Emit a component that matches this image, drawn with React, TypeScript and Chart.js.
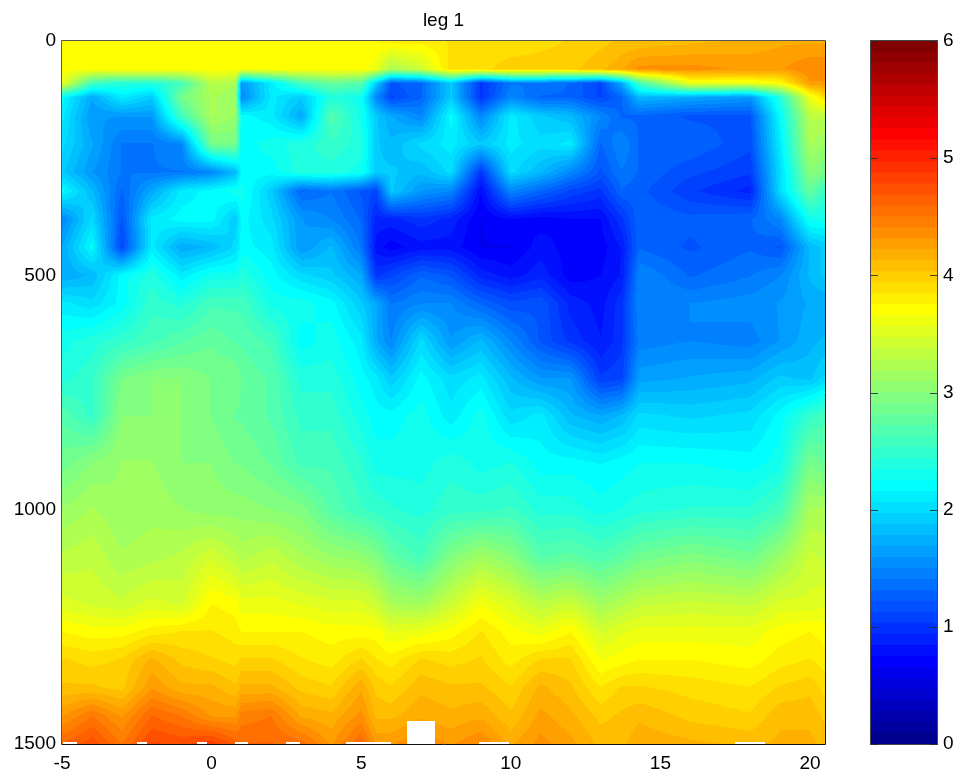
import React, { useEffect, useRef } from "react";
import { Chart, registerables } from "chart.js";

Chart.register(...registerables);

const titleText = "leg 1";
const xTicksStep = 5;
const depthTicksStep = 500;
const colorbarTicksStep = 1;

// sampled longitude-like positions (columns) and depths (rows)
const columns = [-5, -4, -3, -2, -1, 0, 0.8, 1, 2, 3, 4, 5, 5.5, 6, 7, 8, 9, 10, 11, 12, 13, 13.7, 14.3, 16, 18, 19, 20, 20.5];
const depths = [0, 60, 90, 120, 160, 220, 280, 320, 380, 440, 500, 560, 640, 720, 800, 900, 1000, 1100, 1200, 1260, 1320, 1380, 1440, 1500];

// values: one row per depth, one entry per column
const values = [
  [3.75, 3.75, 3.75, 3.75, 3.75, 3.75, 3.75, 3.75, 3.75, 3.75, 3.75, 3.75, 3.75, 3.8, 3.8, 3.85, 3.85, 3.85, 3.9, 3.95, 4.0, 4.05, 4.05, 4.1, 4.15, 4.2, 4.2, 4.2],
  [3.7, 3.7, 3.7, 3.7, 3.7, 3.7, 3.7, 3.7, 3.7, 3.7, 3.7, 3.7, 3.6, 3.2, 3.4, 3.9, 3.9, 4.0, 4.0, 4.0, 4.1, 4.2, 4.35, 4.35, 4.3, 4.3, 4.4, 4.4],
  [3.6, 2.6, 2.4, 2.4, 2.6, 3.3, 3.2, 1.6, 2.1, 2.6, 2.8, 2.7, 1.9, 1.2, 1.3, 1.9, 1.0, 1.4, 1.4, 1.3, 1.1, 1.7, 2.6, 3.6, 3.6, 3.7, 4.3, 4.3],
  [2.2, 1.7, 2.1, 1.9, 2.9, 3.2, 3.1, 1.5, 2.1, 1.9, 2.4, 2.3, 1.5, 1.1, 1.3, 1.9, 1.0, 1.5, 1.3, 1.3, 1.1, 1.3, 1.8, 1.7, 1.6, 2.4, 3.6, 3.9],
  [2.1, 1.6, 1.6, 1.6, 2.6, 3.2, 3.1, 2.2, 2.1, 1.7, 2.7, 2.3, 1.9, 1.7, 1.5, 2.2, 1.5, 2.1, 1.9, 1.8, 1.5, 1.3, 1.3, 1.2, 1.2, 2.2, 3.3, 3.3],
  [2.0, 1.7, 1.4, 1.4, 1.5, 2.9, 2.9, 2.2, 2.3, 2.4, 2.5, 2.4, 1.9, 1.8, 2.0, 2.1, 1.9, 2.1, 2.0, 2.1, 1.3, 1.5, 1.3, 1.3, 1.15, 2.1, 3.2, 3.1],
  [1.9, 1.6, 1.4, 1.4, 1.4, 1.5, 1.8, 2.2, 2.2, 2.4, 2.4, 2.3, 1.9, 1.9, 1.8, 2.0, 1.0, 2.0, 1.8, 1.5, 1.2, 1.4, 1.3, 1.15, 1.05, 2.0, 3.0, 2.9],
  [2.2, 1.8, 1.3, 1.7, 2.1, 2.2, 2.3, 2.3, 1.9, 1.3, 1.4, 1.2, 1.1, 1.9, 1.6, 1.5, 0.75, 1.5, 1.3, 1.1, 1.0, 1.3, 1.25, 1.05, 0.9, 2.0, 2.8, 2.5],
  [1.5, 2.0, 1.2, 2.1, 2.2, 2.2, 1.9, 2.2, 2.0, 1.6, 1.5, 1.3, 0.9, 0.9, 1.0, 0.9, 0.65, 0.75, 0.7, 0.75, 0.75, 1.0, 1.3, 1.25, 1.3, 1.5, 2.3, 2.3],
  [1.7, 2.2, 1.1, 2.1, 1.7, 1.8, 2.0, 2.2, 2.1, 1.6, 1.8, 1.4, 0.8, 0.7, 0.8, 0.8, 0.65, 0.65, 0.8, 0.7, 0.7, 0.85, 1.3, 1.2, 1.3, 1.2, 1.8, 1.9],
  [1.7, 1.8, 2.2, 2.4, 2.1, 2.3, 2.3, 2.4, 2.2, 2.0, 1.9, 1.7, 1.0, 1.1, 1.3, 1.2, 0.9, 0.8, 0.9, 0.7, 0.75, 0.85, 1.5, 1.3, 1.4, 1.5, 1.8, 1.9],
  [2.1, 2.0, 2.2, 2.5, 2.4, 2.6, 2.6, 2.6, 2.3, 2.3, 2.2, 1.9, 1.7, 1.4, 1.5, 1.5, 1.3, 1.15, 1.2, 0.9, 0.8, 1.0, 1.5, 1.5, 1.55, 1.6, 1.7, 1.7],
  [2.3, 2.4, 2.5, 2.6, 2.7, 2.8, 2.7, 2.7, 2.6, 2.2, 2.3, 2.1, 1.7, 1.5, 2.0, 1.6, 1.8, 1.5, 1.2, 1.0, 0.85, 1.0, 1.45, 1.5, 1.45, 1.6, 1.75, 1.8],
  [2.4, 2.5, 2.9, 3.0, 3.0, 2.9, 2.9, 2.8, 2.7, 2.4, 2.4, 2.2, 2.1, 1.9, 2.2, 2.0, 2.1, 1.8, 1.6, 1.6, 1.05, 1.1, 1.65, 1.7, 1.75, 1.9, 1.85, 2.0],
  [2.7, 2.5, 3.0, 3.0, 3.0, 2.9, 2.8, 2.8, 2.7, 2.5, 2.5, 2.3, 2.2, 2.2, 2.3, 2.1, 2.3, 2.0, 2.1, 1.8, 1.7, 1.8, 2.0, 1.95, 2.0, 2.2, 2.5, 2.6],
  [2.85, 3.0, 3.1, 3.1, 3.0, 3.0, 2.9, 2.9, 2.8, 2.6, 2.6, 2.45, 2.3, 2.3, 2.3, 2.4, 2.3, 2.35, 2.2, 2.2, 2.15, 2.2, 2.25, 2.25, 2.2, 2.3, 2.9, 2.8],
  [3.1, 3.2, 3.1, 3.15, 3.1, 3.05, 3.05, 3.05, 3.0, 2.95, 2.7, 2.55, 2.5, 2.45, 2.4, 2.5, 2.5, 2.55, 2.4, 2.4, 2.3, 2.35, 2.4, 2.45, 2.45, 2.6, 3.2, 3.2],
  [3.3, 3.35, 3.2, 3.25, 3.3, 3.45, 3.3, 3.25, 3.35, 3.2, 3.1, 3.05, 2.95, 2.75, 2.6, 2.95, 3.15, 3.0, 2.7, 2.75, 2.65, 2.75, 2.85, 2.95, 2.85, 3.1, 3.4, 3.35],
  [3.5, 3.45, 3.4, 3.5, 3.45, 3.75, 3.7, 3.6, 3.6, 3.55, 3.5, 3.5, 3.4, 3.2, 3.15, 3.4, 3.65, 3.5, 3.3, 3.4, 3.15, 3.25, 3.35, 3.4, 3.35, 3.5, 3.5, 3.55],
  [3.75, 3.7, 3.7, 3.8, 3.85, 3.85, 3.8, 3.75, 3.75, 3.75, 3.7, 3.7, 3.7, 3.55, 3.6, 3.7, 3.85, 3.7, 3.6, 3.75, 3.45, 3.55, 3.6, 3.6, 3.6, 3.7, 3.75, 3.7],
  [3.95, 3.9, 3.95, 4.15, 4.0, 3.95, 3.9, 3.95, 3.95, 3.85, 3.8, 3.95, 3.85, 3.8, 3.95, 3.9, 3.95, 3.8, 3.95, 3.95, 3.65, 3.7, 3.75, 3.75, 3.7, 3.8, 3.85, 3.8],
  [4.05, 4.05, 4.0, 4.3, 4.15, 4.15, 4.05, 4.15, 4.15, 4.0, 3.95, 4.2, 4.0, 3.95, 4.1, 4.05, 4.05, 3.95, 4.15, 4.05, 3.85, 3.95, 3.95, 3.9, 3.85, 3.95, 4.0, 3.9],
  [4.3, 4.5, 4.3, 4.6, 4.5, 4.3, 4.3, 4.45, 4.5, 4.2, 4.15, 4.35, 4.1, 4.1, 4.2, 4.15, 4.2, 4.05, 4.25, 4.15, 4.0, 4.05, 4.1, 4.0, 3.95, 4.1, 4.1, 4.0],
  [4.6, 4.75, 4.5, 4.8, 4.75, 4.85, 4.65, 4.6, 4.6, 4.55, 4.3, 4.6, 4.3, 4.3, 4.4, 4.3, 4.4, 4.2, 4.35, 4.25, 4.1, 4.1, 4.2, 4.15, 4.1, 4.15, 4.15, 4.1],
];

// regions without data: [x from, x to, depth from, depth to]
const blankRegions = [
  [6.52, 7.47, 1450, 1500],
  [-4.95, -4.5, 1495, 1500],
  [-2.5, -2.15, 1495, 1500],
  [-0.5, -0.17, 1495, 1500],
  [0.78, 1.2, 1495, 1500],
  [2.5, 2.95, 1495, 1500],
  [4.5, 6.0, 1495, 1500],
  [8.95, 9.95, 1495, 1500],
  [17.5, 18.5, 1495, 1500],
];

const colorLevels = 64;
const valueMax = 6;

function jet(i: number): [number, number, number] {
  const x = i + 1;
  const b = x <= 8 ? (x + 8) / 16 : x <= 24 ? 1 : Math.max(0, (40 - x) / 16);
  const g = x <= 8 ? 0 : x <= 24 ? (x - 8) / 16 : x <= 40 ? 1 : Math.max(0, (56 - x) / 16);
  const r = x <= 24 ? 0 : x <= 40 ? (x - 24) / 16 : x <= 56 ? 1 : (72 - x) / 16;
  return [Math.round(r * 255), Math.round(g * 255), Math.round(b * 255)];
}

function segmentAt(axis: number[], v: number): [number, number] {
  let k = 0;
  while (k < axis.length - 2 && v > axis[k + 1]) k++;
  const t = Math.min(1, Math.max(0, (v - axis[k]) / (axis[k + 1] - axis[k])));
  return [k, t];
}

const contourFill = {
  id: "contourFill",
  beforeDatasetsDraw(chart: any) {
    const { ctx, chartArea, scales } = chart;
    const left = Math.round(chartArea.left);
    const top = Math.round(chartArea.top);
    const w = Math.round(chartArea.right) - left;
    const h = Math.round(chartArea.bottom) - top;
    const img = ctx.createImageData(w, h);
    const colSeg: [number, number][] = [];
    const xVals: number[] = [];
    for (let i = 0; i < w; i++) {
      const xv = scales.x.getValueForPixel(left + i + 0.5);
      xVals.push(xv);
      colSeg.push(segmentAt(columns, xv));
    }
    for (let j = 0; j < h; j++) {
      const dv = scales.y.getValueForPixel(top + j + 0.5);
      const [r, u] = segmentAt(depths, dv);
      for (let i = 0; i < w; i++) {
        const [c, t] = colSeg[i];
        const v =
          values[r][c] * (1 - t) * (1 - u) +
          values[r][c + 1] * t * (1 - u) +
          values[r + 1][c] * (1 - t) * u +
          values[r + 1][c + 1] * t * u;
        const blank = blankRegions.some(
          (q) => xVals[i] >= q[0] && xVals[i] <= q[1] && dv >= q[2] && dv <= q[3]
        );
        const o = (j * w + i) * 4;
        if (blank) {
          img.data[o] = img.data[o + 1] = img.data[o + 2] = 255;
        } else {
          const lvl = Math.min(colorLevels - 1, Math.max(0, Math.floor((v / valueMax) * colorLevels)));
          const rgb = jet(lvl);
          img.data[o] = rgb[0];
          img.data[o + 1] = rgb[1];
          img.data[o + 2] = rgb[2];
        }
        img.data[o + 3] = 255;
      }
    }
    ctx.putImageData(img, left, top);
  },
  afterDatasetsDraw(chart: any) {
    const { ctx, chartArea: a } = chart;
    ctx.save();
    ctx.lineWidth = 1;
    ctx.strokeStyle = "#555";
    ctx.beginPath();
    ctx.moveTo(a.left - 0.5, a.bottom);
    ctx.lineTo(a.left - 0.5, a.top - 0.5);
    ctx.lineTo(a.right, a.top - 0.5);
    ctx.stroke();
    ctx.strokeStyle = "#111";
    ctx.beginPath();
    ctx.moveTo(a.right + 0.5, a.top - 0.5);
    ctx.lineTo(a.right + 0.5, a.bottom + 0.5);
    ctx.lineTo(a.left - 0.5, a.bottom + 0.5);
    ctx.stroke();
    ctx.restore();
  },
};

const colorbarFrame = {
  id: "colorbarFrame",
  afterDatasetsDraw(chart: any) {
    const { ctx, chartArea: a, scales } = chart;
    ctx.save();
    ctx.strokeStyle = "rgba(40,40,40,0.85)";
    ctx.lineWidth = 1;
    ctx.strokeRect(a.left - 0.5, a.top - 0.5, a.right - a.left + 1, a.bottom - a.top + 1);
    scales.y.ticks.forEach((tick: any) => {
      const py = Math.round(scales.y.getPixelForValue(tick.value)) + 0.5;
      ctx.beginPath();
      ctx.moveTo(a.left, py);
      ctx.lineTo(a.left + 7, py);
      ctx.moveTo(a.right, py);
      ctx.lineTo(a.right - 7, py);
      ctx.stroke();
    });
    ctx.restore();
  },
};

const FONT = { family: "'Liberation Sans', Arial, sans-serif", size: 19 };
const plainNumber = (v: any) => String(v);

export default function App() {
  const mainRef = useRef<HTMLCanvasElement>(null);
  const barRef = useRef<HTMLCanvasElement>(null);

  useEffect(() => {
    const samples: { x: number; y: number }[] = [];
    depths.forEach((d) => columns.forEach((c) => samples.push({ x: c, y: d })));

    const main = new Chart(mainRef.current!, {
      type: "scatter",
      data: { datasets: [{ data: samples, pointRadius: 0, pointHoverRadius: 0 }] },
      plugins: [contourFill],
      options: {
        animation: false,
        responsive: false,
        layout: { padding: { left: 0, right: 133, top: 0, bottom: 0 } },
        plugins: {
          legend: { display: false },
          tooltip: { enabled: false },
          title: {
            display: true,
            text: titleText,
            fullSize: false,
            color: "#000",
            font: { ...FONT, size: 19, weight: "normal" },
            padding: { top: 9, bottom: 9.2 },
          },
        },
        scales: {
          x: {
            type: "linear",
            min: -5,
            max: 20.5,
            grid: { display: false, drawTicks: false },
            border: { display: false },
            ticks: { stepSize: xTicksStep, includeBounds: false, maxRotation: 0, padding: 8, color: "#000", font: FONT, callback: plainNumber },
            afterFit: (s: any) => { s.height = 29; },
          },
          y: {
            type: "linear",
            reverse: true,
            min: 0,
            max: 1500,
            grid: { display: false, drawTicks: false },
            border: { display: false },
            ticks: { stepSize: depthTicksStep, padding: 6, color: "#000", font: FONT, callback: plainNumber },
            afterFit: (s: any) => { s.width = 62; },
          },
        },
      },
    } as any);

    const levelSize = valueMax / colorLevels;
    const bar = new Chart(barRef.current!, {
      type: "bar",
      data: {
        labels: ["colorbar"],
        datasets: Array.from({ length: colorLevels }, (_, i) => {
          const c = jet(i);
          return {
            data: [levelSize],
            backgroundColor: `rgb(${c[0]},${c[1]},${c[2]})`,
            borderWidth: 0,
            categoryPercentage: 1,
            barPercentage: 1,
          };
        }),
      },
      plugins: [colorbarFrame],
      options: {
        animation: false,
        responsive: false,
        layout: { padding: { left: 11, right: 0, top: 41, bottom: 29 } },
        plugins: { legend: { display: false }, tooltip: { enabled: false } },
        scales: {
          x: { stacked: true, display: false },
          y: {
            stacked: true,
            position: "right",
            min: 0,
            max: valueMax,
            grid: { display: false, drawTicks: false },
            border: { display: false },
            ticks: { stepSize: colorbarTicksStep, padding: 6, color: "#000", font: FONT },
            afterFit: (s: any) => { s.width = 21; },
          },
        },
      },
    } as any);

    return () => {
      main.destroy();
      bar.destroy();
    };
  }, []);

  return (
    <div style={{ position: "absolute", left: 0, top: 0, width: 958, height: 773, background: "#fff", overflow: "hidden" }}>
      <canvas ref={mainRef} width={958} height={773} style={{ position: "absolute", left: 0, top: 0 }} />
      <canvas ref={barRef} width={98} height={773} style={{ position: "absolute", left: 860, top: 0 }} />
    </div>
  );
}
